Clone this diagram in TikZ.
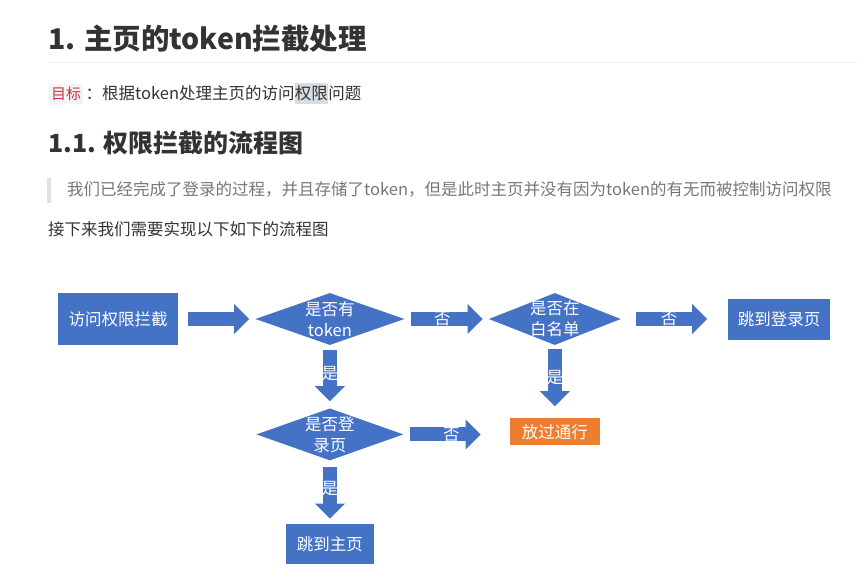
\documentclass[tikz,border=0pt]{standalone}
\usepackage{fontspec}
\setmainfont{Noto Sans CJK SC}
\usetikzlibrary{positioning,arrows.meta,shapes.geometric}
\definecolor{fcBlue}{HTML}{4472C4}
\definecolor{fcOrange}{HTML}{ED7D31}
\definecolor{mdText}{HTML}{333333}
\definecolor{mdGray}{HTML}{777777}
\definecolor{mdRule}{HTML}{EEEEEE}
\definecolor{mdBar}{HTML}{DFE2E5}
\definecolor{mdCodeBg}{HTML}{F3F4F4}
\definecolor{mdCode}{HTML}{D9304F}
\definecolor{mdSel}{HTML}{D7DEE3}
\tikzset{
  md-h1/.style={font=\fontsize{28.5}{34}\selectfont\bfseries, text=mdText,
    anchor=base west, inner sep=0pt},
  md-h2/.style={md-h1, font=\fontsize{25}{30}\selectfont\bfseries},
  md-body/.style={font=\fontsize{16.5}{20}\selectfont, text=mdText,
    anchor=base west, inner sep=0pt},
  md-code/.style={md-body, font=\fontsize{15}{18}\selectfont, text=mdCode,
    fill=mdCodeBg, inner xsep=2pt, inner ysep=3pt},
  fc-box/.style={fill=fcBlue, text=white, font=\fontsize{16.5}{21}\selectfont,
    align=center, inner sep=0pt},
  fc-orange/.style={fc-box, fill=fcOrange},
  fc-dia/.style={fc-box, diamond, aspect=3, inner ysep=-10pt},
  fc-arrow/.style={draw=fcBlue, line width=14pt,
    -{Triangle[length=15pt,width=30pt,line width=0pt]}},
  fc-lbl/.style={text=white, font=\fontsize{16.5}{20}\selectfont,
    pos=0.45, inner sep=0pt}
}
\begin{document}
\begin{tikzpicture}[x=1pt, y=-1pt]
\useasboundingbox (0,0) rectangle (858,585);

% page text
\node[md-h1] (h1) at (48,50) {1. 主页的token拦截处理};
\draw[mdRule, line width=1pt] (48,63) -- (858,63);
\node[md-code] (goal) at (49,100) {目标};
\node[md-body] (g1) at ([xshift=2pt]goal.base east) {：根据token处理主页的访问};
\node[md-body, fill=mdSel, inner ysep=3pt] (g2) at (g1.base east) {权限};
\node[md-body] (g3) at (g2.base east) {问题};
\node[md-h2] (h2) at (48,153) {1.1. 权限拦截的流程图};
\fill[mdBar] (47,178) rectangle (51,203);
\node[md-body, text=mdGray] (quote) at (67,196)
  {我们已经完成了登录的过程，并且存储了token，但是此时主页并没有因为token的有无而被控制访问权限};
\node[md-body] (intro) at (48,235) {接下来我们需要实现以下如下的流程图};

% flow chart
\node[fc-box, minimum width=120pt, minimum height=52pt] (start) at (118,319)
  {访问权限拦截};
\node[fc-dia, minimum width=149pt, minimum height=52pt, right=77pt of start]
  (hasToken) {是否有\\token};
\node[fc-dia, minimum width=132pt, minimum height=52pt, right=84pt of hasToken]
  (whiteList) {是否在\\白名单};
\node[fc-box, minimum width=102pt, minimum height=41pt, right=107pt of whiteList]
  (toLogin) {跳到登录页};
\node[fc-dia, minimum width=147pt, minimum height=52pt, below=63pt of hasToken]
  (isLogin) {是否登\\录页};
\node[fc-orange, minimum width=90pt, minimum height=27pt, below=73pt of whiteList]
  (pass) {放过通行};
\node[fc-box, minimum width=88pt, minimum height=40pt, below=63pt of isLogin]
  (toHome) {跳到主页};

\draw[fc-arrow, shorten <=10pt, shorten >=6pt] (start) -- (hasToken);
\draw[fc-arrow, shorten <=6pt, shorten >=6pt] (hasToken) -- node[fc-lbl] {否}
  (whiteList);
\draw[fc-arrow, shorten <=15pt, shorten >=21pt] (whiteList) -- node[fc-lbl] {否}
  (toLogin);
\draw[fc-arrow, shorten <=5pt, shorten >=7pt] (hasToken) -- node[fc-lbl] {是}
  (isLogin);
\draw[fc-arrow, shorten <=4pt, shorten >=12pt] (whiteList) -- node[fc-lbl] {是}
  (pass);
\draw[fc-arrow, shorten <=6pt, shorten >=29pt] (isLogin.east) --
  node[fc-lbl] {否} (isLogin.east -| pass.west);
\draw[fc-arrow, shorten <=6pt, shorten >=5pt] (isLogin) -- node[fc-lbl] {是}
  (toHome);
\end{tikzpicture}
\end{document}
